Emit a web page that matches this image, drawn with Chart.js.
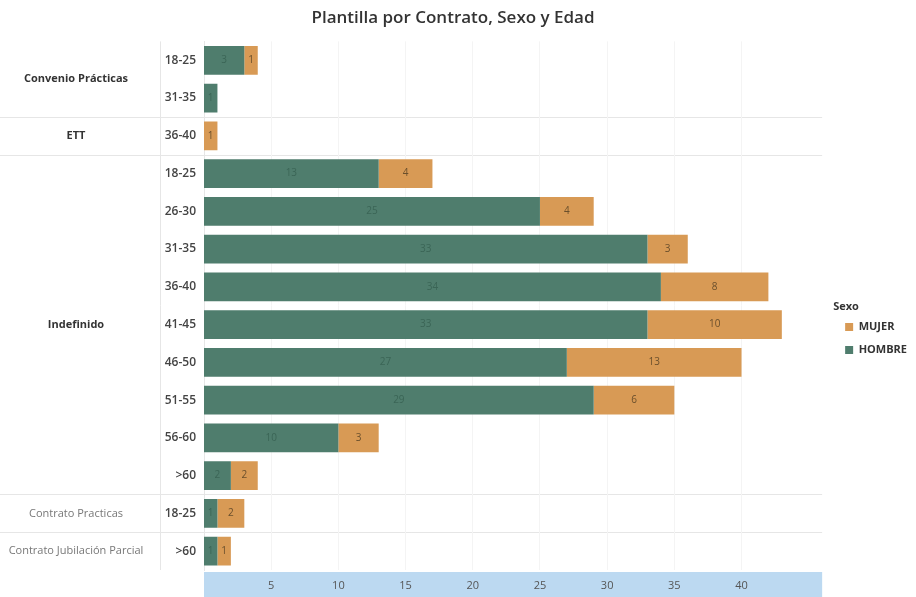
<!DOCTYPE html>
<html>
<head>
<meta charset="utf-8">
<script src="https://cdn.jsdelivr.net/npm/chart.js@4.4.1/dist/chart.umd.min.js"></script>
<style>
  html, body { margin: 0; padding: 0; background: #fff; }
  #wrap { width: 916px; height: 597px; }
</style>
</head>
<body>
<div id="wrap"><canvas id="plantilla"></canvas></div>
<script>
// filas del eje (edad) y su contrato
const edades = ['18-25', '31-35', '36-40', '18-25', '26-30', '31-35', '36-40', '41-45', '46-50', '51-55', '56-60', '>60', '18-25', '>60'];
const contratos = ['Convenio Prácticas', 'ETT', 'Indefinido', 'Contrato Practicas', 'Contrato Jubilación Parcial'];
const filasContrato = [2, 1, 9, 1, 1];

const hombre = [3, 1, null, 13, 25, 33, 34, 33, 27, 29, 10, 2, 1, 1];
const mujer = [1, null, 1, 4, 4, 3, 8, 10, 13, 6, 3, 2, 2, 1];

const ticksX = [5, 10, 15, 20, 25, 30, 35, 40];

const VERDE = '#4f7d6d';
const NARANJA = '#d89a55';

// etiquetas de contrato a la izquierda + separadores
const gruposPlugin = {
    id: 'grupos',
    afterLayout(chart) {
        // despega un poco la leyenda del area del grafico
        const lg = chart.legend;
        lg.left += 11; lg.right += 11;
        lg.top += 36; lg.bottom += 36;
    },
    beforeDraw(chart) {
        const ctx = chart.ctx;
        const area = chart.chartArea;
        const y = chart.scales.y;

        // banda azul del eje x
        ctx.save();
        ctx.fillStyle = '#bcd9f1';
        ctx.fillRect(area.left, area.bottom + 2, area.right - area.left, chart.height - area.bottom - 2);
        ctx.restore();

        ctx.save();
        ctx.strokeStyle = '#e6e6e6';
        ctx.lineWidth = 1;
        ctx.beginPath();
        ctx.moveTo(160.5, area.top);
        ctx.lineTo(160.5, area.bottom);
        ctx.stroke();

        const paso = y.getPixelForValue(1) - y.getPixelForValue(0);
        let inicio = 0;
        contratos.forEach((nombre, g) => {
            const fin = inicio + filasContrato[g] - 1;
            const yIni = y.getPixelForValue(inicio);
            const yFin = y.getPixelForValue(fin);

            if (g > 0) {
                const ySep = Math.round(yIni - paso / 2) + 0.5;
                ctx.beginPath();
                ctx.moveTo(0, ySep);
                ctx.lineTo(area.right, ySep);
                ctx.stroke();
            }

            const apagado = g >= 3;
            ctx.fillStyle = apagado ? '#777' : '#333';
            ctx.font = (apagado ? '' : 'bold ') + '11px "Open Sans", sans-serif';
            ctx.textAlign = 'center';
            ctx.textBaseline = 'middle';
            ctx.fillText(nombre, 76, (yIni + yFin) / 2);

            inicio = fin + 1;
        });
        ctx.restore();
    },
    afterDatasetsDraw(chart) {
        const ctx = chart.ctx;
        ctx.save();
        ctx.font = '10px "Open Sans", sans-serif';
        ctx.textAlign = 'center';
        ctx.textBaseline = 'middle';
        chart.data.datasets.forEach((ds, i) => {
            const meta = chart.getDatasetMeta(i);
            ctx.fillStyle = i === 0 ? '#3b6556' : '#6a4f2c';
            meta.data.forEach((bar, j) => {
                const v = ds.data[j];
                if (v === null || v === undefined) return;
                ctx.fillText(v, (bar.x + bar.base) / 2, bar.y);
            });
        });
        ctx.restore();
    }
};

new Chart('plantilla', {
    type: 'bar',
    data: {
        labels: edades,
        datasets: [{
            label: 'HOMBRE',
            data: hombre,
            backgroundColor: VERDE,
            categoryPercentage: 1,
            barPercentage: 0.76
        }, {
            label: 'MUJER',
            data: mujer,
            backgroundColor: NARANJA,
            categoryPercentage: 1,
            barPercentage: 0.76
        }]
    },
    options: {
        indexAxis: 'y',
        responsive: true,
        maintainAspectRatio: false,
        animation: false,
        layout: { padding: { left: 0, right: 10, top: 0, bottom: 0 } },
        scales: {
            x: {
                stacked: true,
                min: 0,
                max: 46,
                afterBuildTicks: scale => {
                    scale.ticks = ticksX.map(v => ({ value: v }));
                },
                afterFit: scale => { scale.height = 27; },
                grid: { color: '#f4f4f4', drawTicks: false },
                border: { display: false },
                ticks: {
                    color: '#555',
                    padding: 9,
                    font: { family: '"Open Sans", sans-serif', size: 11 }
                }
            },
            y: {
                stacked: true,
                afterFit: scale => { scale.width = 204; },
                grid: { display: false },
                border: { color: '#e6e6e6' },
                ticks: {
                    color: '#444',
                    padding: 0,
                    font: { family: '"Open Sans", sans-serif', size: 12, weight: '600' }
                }
            }
        },
        plugins: {
            title: {
                display: true,
                text: 'Plantilla por Contrato, Sexo y Edad',
                color: '#333',
                padding: { top: 8, bottom: 13 },
                font: { family: '"Open Sans", sans-serif', size: 17, weight: '600' }
            },
            legend: {
                position: 'right',
                reverse: true,
                align: 'center',
                maxWidth: 94,
                title: {
                    display: true,
                    text: 'Sexo',
                    color: '#333',
                    position: 'start',
                    padding: { top: 0, bottom: -5 },
                    font: { family: '"Open Sans", sans-serif', size: 11, weight: 'bold' }
                },
                labels: {
                    boxWidth: 8,
                    boxHeight: 8,
                    padding: 12,
                    color: '#333',
                    font: { family: '"Open Sans", sans-serif', size: 11, weight: 'bold' }
                }
            },
            tooltip: { enabled: false }
        }
    },
    plugins: [gruposPlugin]
});
</script>
</body>
</html>
